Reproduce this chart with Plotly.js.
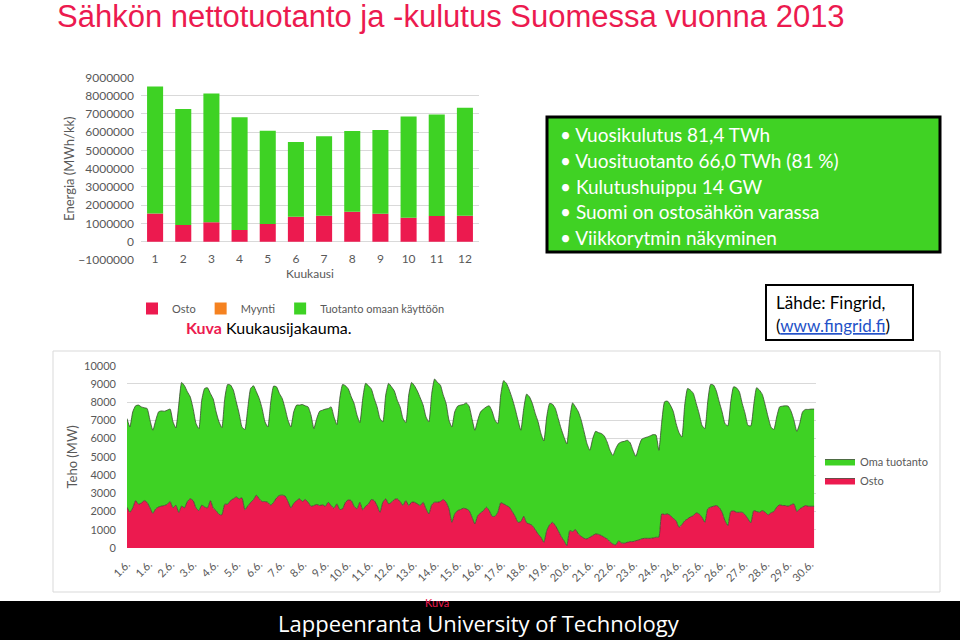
<!DOCTYPE html>
<html>
<head>
<meta charset="utf-8">
<script src="https://cdn.plot.ly/plotly-3.0.1.min.js"></script>
<style>
html, body { margin: 0; padding: 0; background: #ffffff; }
#chart { width: 960px; height: 640px; }
</style>
</head>
<body>
<div id="chart"></div>
<script>
// ---------- Data: monthly energy (MWh / month), 2013 ----------
const kuukaudet = [1, 2, 3, 4, 5, 6, 7, 8, 9, 10, 11, 12];
const ostoKk = [1550000, 910000, 1060000, 640000, 970000, 1370000, 1420000, 1640000, 1530000, 1310000, 1410000, 1420000];
const myyntiKk = [0, 0, 0, 0, 0, 0, 0, 0, 0, 0, 0, 0];
const tuotantoKk = [6940000, 6350000, 7060000, 6180000, 5110000, 4090000, 4360000, 4420000, 4580000, 5550000, 5560000, 5920000];

// ---------- Data: June 2013, power (MW), one reading every 3 hours ----------
const kulutusKesakuu = [
  7100,6640,7470,7800,7840,7740,7690,7650,
  7010,6460,7010,7470,7520,7500,7560,7620,
  6920,6590,7840,9080,8900,8570,8290,7650,
  6830,6550,8110,8750,8790,8480,8170,7470,
  6920,6610,8200,8970,8940,8660,8020,7380,
  6640,6500,7650,8750,8900,8570,8200,7650,
  6920,6640,8020,8880,8840,8480,8200,7650,
  7010,6640,7470,7840,7840,7870,7800,7740,
  7290,6550,7100,7500,7560,7620,7650,7740,
  7190,6770,8200,8970,8900,8720,8290,7930,
  7290,6880,8200,9030,8900,8720,8200,7740,
  7100,6920,8390,9030,8840,8610,8110,7740,
  7100,6880,8390,9080,8900,8610,8240,7840,
  7190,6920,8480,9270,9080,8940,8390,7930,
  7010,6640,7470,7780,7840,7870,7960,7780,
  7100,6460,7010,7470,7620,7740,7800,7500,
  7010,6830,8390,9180,9030,8660,8200,7650,
  7010,6460,7650,8440,8290,7930,7380,6920,
  6280,5870,7190,7930,7890,7650,7100,6550,
  6090,5710,7100,7960,7740,7470,7010,6370,
  5730,5360,6000,6400,6330,6280,6150,5820,
  5360,5080,5450,5730,5820,5850,5910,5780,
  5360,5030,5540,5960,6040,6090,6150,6220,
  6200,5360,6900,8020,8060,7840,7500,6830,
  6330,6090,7840,8750,8660,8480,7930,7380,
  6730,6550,8020,8970,8940,8610,8020,7470,
  6830,6700,8020,8840,8790,8570,7930,7380,
  6730,6700,7840,8790,8660,8420,7840,7190,
  6640,6500,7190,7740,7780,7800,7780,7500,
  7010,6400,6830,7470,7600,7600,7620,7620
];
const ostoKesakuu = [
  2240,1950,2200,2600,2400,2470,2600,2500,
  2200,1900,2150,2250,2300,2330,2400,2550,
  2200,2350,1950,2300,2200,2550,2700,2600,
  2200,2050,2350,2250,2200,2600,2200,2050,
  1850,1820,2400,2400,2600,2700,2800,2700,
  2750,2100,2300,2500,2650,2900,2700,2550,
  2550,2500,2350,2500,2750,2880,2900,2850,
  2550,2200,2450,2600,2700,2550,2660,2510,
  2290,2330,2390,2330,2370,2290,2510,2330,
  2180,2420,2110,2150,2510,2640,2600,2290,
  2150,2510,2090,2290,2420,2660,2600,2330,
  1960,2510,2700,2420,2510,2660,2700,2550,
  2330,2600,2330,2510,2510,2420,2330,2510,
  2150,1870,2370,2510,2510,2550,2660,2510,
  2150,1410,1870,2050,2110,2180,2150,2050,
  1700,1320,1780,1930,2050,2240,2050,1740,
  1740,1960,2480,2420,2330,2240,2000,1740,
  1410,1450,1740,1380,1320,1230,1010,770,
  590,310,950,1270,1410,1230,950,640,
  400,130,950,900,1010,770,640,530,
  500,590,680,770,750,680,590,500,
  350,220,170,390,280,260,310,350,
  350,400,440,500,530,530,530,550,
  590,590,1870,1840,1870,1780,1630,1490,
  1140,1280,1490,1600,1710,1780,1930,1870,
  1690,1410,2150,2240,2290,2330,2220,1960,
  1500,1230,2000,2040,1960,1960,1960,1820,
  1600,1380,2050,2000,1960,2050,1960,1820,
  1930,2000,2240,2370,2330,2330,2290,2370,
  2420,2000,2150,2240,2330,2290,2290,2290
];
const paivaTikit = ["1.6.","1.6.","2.6.","3.6.","4.6.","5.6.","6.6.","7.6.","8.6.","9.6.","10.6.",
  "11.6.","12.6.","13.6.","14.6.","15.6.","16.6.","17.6.","18.6.","19.6.","20.6.","21.6.",
  "22.6.","23.6.","24.6.","24.6.","25.6.","26.6.","27.6.","28.6.","29.6.","30.6."];

// ---------- Texts ----------
const otsikko = "Sähkön nettotuotanto ja -kulutus Suomessa vuonna 2013";
const huomiot = ["Vuosikulutus 81,4 TWh", "Vuosituotanto 66,0 TWh (81 %)", "Kulutushuippu 14 GW",
  "Suomi on ostosähkön varassa", "Viikkorytmin näkyminen"];

// ---------- Styling ----------
const W = 960, H = 640;
const px = v => v / W;
const py = v => 1 - v / H;
const PUNAINEN = "#EC1A4F";
const VIHREA = "#3ED224";
const ORANSSI = "#F58220";
const HARMAA = "#595959";
const RUUDUKKO = "#D9D9D9";
const FONT = "Lato, 'Open Sans', sans-serif";

const tunnit = ostoKesakuu.map((_, i) => i * 3);
const tikkiPaikat = paivaTikit.map((_, k) => k * 23);

const traces = [
  { type: "bar", name: "Osto", x: kuukaudet, y: ostoKk, marker: { color: PUNAINEN }, xaxis: "x", yaxis: "y", legend: "legend" },
  { type: "bar", name: "Myynti", x: kuukaudet, y: myyntiKk, marker: { color: ORANSSI }, xaxis: "x", yaxis: "y", legend: "legend" },
  { type: "bar", name: "Tuotanto omaan käyttöön", x: kuukaudet, y: tuotantoKk, marker: { color: VIHREA }, xaxis: "x", yaxis: "y", legend: "legend" },
  { type: "scatter", mode: "lines", name: "Osto", x: tunnit, y: ostoKesakuu, fill: "tozeroy",
    fillcolor: PUNAINEN, line: { color: "#4a3a30", width: 0.8, shape: "spline", smoothing: 0.5 },
    xaxis: "x2", yaxis: "y2", legend: "legend2" },
  { type: "scatter", mode: "lines", name: "Oma tuotanto", x: tunnit, y: kulutusKesakuu, fill: "tonexty",
    fillcolor: VIHREA, line: { color: "#3a4a30", width: 0.8, shape: "spline", smoothing: 0.5 },
    xaxis: "x2", yaxis: "y2", legend: "legend2" }
];

const layout = {
  width: W, height: H,
  margin: { l: 0, r: 0, t: 0, b: 0 },
  paper_bgcolor: "#ffffff", plot_bgcolor: "rgba(0,0,0,0)",
  showlegend: true,
  barmode: "relative",
  bargap: 0.43,
  font: { family: FONT, color: HARMAA, size: 12 },
  title: { text: otsikko, x: px(57), xanchor: "left", y: py(16), yanchor: "middle",
    font: { family: "'Liberation Sans', Arial, sans-serif", size: 31, color: PUNAINEN } },
  xaxis: {
    domain: [px(141), px(479)], range: [0.5, 12.5], tickvals: kuukaudet,
    anchor: "free", position: py(250),
    showgrid: false, zeroline: false, showline: false, ticks: "",
    tickfont: { family: FONT, size: 12, color: HARMAA },
    title: { text: "Kuukausi", font: { family: FONT, size: 12, color: HARMAA }, standoff: 2 }
  },
  yaxis: {
    domain: [py(260), py(77.3)], range: [-1000000, 9000000], dtick: 1000000, tickformat: "d",
    showgrid: true, gridcolor: RUUDUKKO, gridwidth: 1, zeroline: false, showline: false, ticks: "",
    ticklabelstandoff: 6,
    tickfont: { family: FONT, size: 12, color: HARMAA },
    title: { text: "Energia (MWh/kk)", font: { family: FONT, size: 13, color: HARMAA }, standoff: 0 }
  },
  xaxis2: {
    domain: [px(127), px(816)], range: [0, 719], anchor: "y2",
    tickvals: tikkiPaikat, ticktext: paivaTikit, tickangle: -45,
    showgrid: false, zeroline: false, showline: false, ticks: "",
    ticklabelstandoff: 7,
    tickfont: { family: FONT, size: 11, color: HARMAA }
  },
  yaxis2: {
    domain: [py(548), py(365.7)], range: [0, 10000], dtick: 1000, anchor: "x2", tickformat: "d",
    showgrid: true, gridcolor: RUUDUKKO, gridwidth: 1, zeroline: false, showline: false, ticks: "",
    ticklabelstandoff: 10,
    tickfont: { family: FONT, size: 11, color: HARMAA },
    title: { text: "Teho (MW)", font: { family: FONT, size: 13, color: HARMAA }, standoff: 3 }
  },
  legend: {
    orientation: "h", x: px(132), y: py(294), xanchor: "left", yanchor: "top",
    font: { family: FONT, size: 11, color: HARMAA }, bgcolor: "rgba(0,0,0,0)", itemwidth: 30
  },
  legend2: {
    orientation: "v", x: px(820), y: py(447), xanchor: "left", yanchor: "top", traceorder: "reversed",
    font: { family: FONT, size: 11, color: HARMAA }, bgcolor: "rgba(0,0,0,0)", itemwidth: 30
  },
  shapes: [
    { type: "rect", xref: "paper", yref: "paper", x0: px(547), x1: px(940), y0: py(252), y1: py(117),
      fillcolor: "#40D224", line: { color: "#000000", width: 3 } },
    { type: "rect", xref: "paper", yref: "paper", x0: px(766), x1: px(913), y0: py(340), y1: py(285),
      fillcolor: "#ffffff", line: { color: "#000000", width: 2 } },
    { type: "rect", xref: "paper", yref: "paper", x0: px(53), x1: px(940), y0: py(592), y1: py(351),
      fillcolor: "rgba(0,0,0,0)", line: { color: "#D9D9D9", width: 1 }, layer: "below" },
    { type: "rect", xref: "paper", yref: "paper", x0: 0, x1: 1, y0: 0, y1: py(601),
      fillcolor: "#000000", line: { width: 0 } }
  ],
  annotations: []
};

const rivit = [134, 160, 186, 211, 237];
huomiot.forEach((t, i) => {
  layout.annotations.push({ xref: "paper", yref: "paper", x: px(558), y: py(rivit[i]), xanchor: "left", yanchor: "middle",
    text: "• " + t, showarrow: false, font: { family: FONT, size: 19, color: "#ffffff" } });
});
layout.annotations.push(
  { xref: "paper", yref: "paper", x: px(774), y: py(302), xanchor: "left", yanchor: "middle", showarrow: false,
    text: "Lähde: Fingrid,", font: { family: FONT, size: 17, color: "#000000" } },
  { xref: "paper", yref: "paper", x: px(774), y: py(325), xanchor: "left", yanchor: "middle", showarrow: false,
    text: "(<a href='http://www.fingrid.fi' style='color:#2452C8'><span style='text-decoration:underline'>www.fingrid.fi</span></a>)",
    font: { family: FONT, size: 17, color: "#000000" } },
  { xref: "paper", yref: "paper", x: px(269), y: py(327), xanchor: "center", yanchor: "middle", showarrow: false,
    text: "<span style='color:" + PUNAINEN + "'><b>Kuva</b></span> Kuukausijakauma.",
    font: { family: FONT, size: 16, color: "#000000" } },
  { xref: "paper", yref: "paper", x: px(479), y: py(623), xanchor: "center", yanchor: "middle", showarrow: false,
    text: "Lappeenranta University of Technology", font: { family: "'Open Sans', Lato, sans-serif", size: 22, color: "#ffffff" } },
  { xref: "paper", yref: "paper", x: px(437), y: py(602), xanchor: "center", yanchor: "middle", showarrow: false,
    text: "Kuva", font: { family: FONT, size: 11, color: PUNAINEN } }
);

Plotly.newPlot("chart", traces, layout, { displayModeBar: false, staticPlot: true });
</script>
</body>
</html>
